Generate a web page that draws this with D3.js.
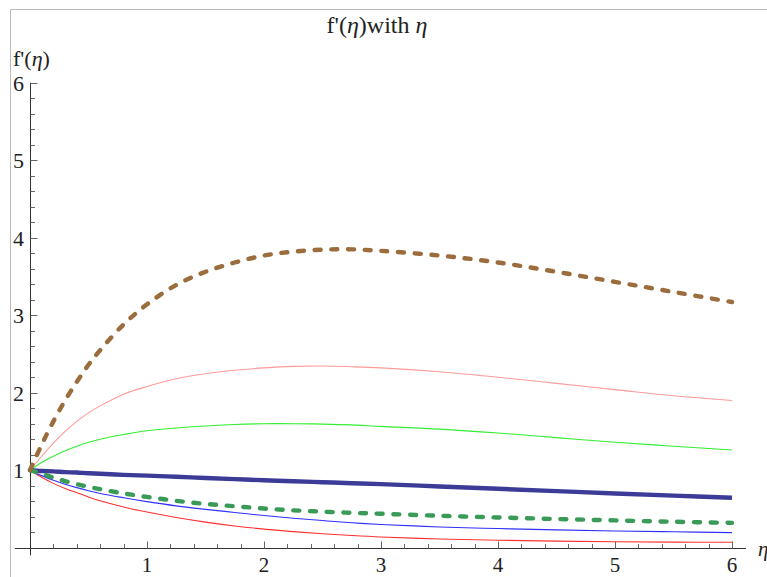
<!DOCTYPE html>
<html>
<head>
<meta charset="utf-8">
<script src="https://cdn.jsdelivr.net/npm/d3@7"></script>
<style>
  html, body { margin: 0; padding: 0; background: #fff; }
  svg { display: block; }
</style>
</head>
<body>
<div id="chart"></div>
<script>
// eta grid shared by every curve
const eta = [0, 0.1, 0.2, 0.3, 0.4, 0.5, 0.6, 0.8, 1, 1.25, 1.5, 1.75, 2, 2.25, 2.5, 2.75, 3, 3.5, 4, 4.5, 5, 5.5, 6];

// f'(eta) values
const brownDashed = [1, 1.33, 1.63, 1.90, 2.14, 2.36, 2.55, 2.88, 3.14, 3.39, 3.56, 3.68, 3.77, 3.82, 3.845, 3.85, 3.83, 3.77, 3.68, 3.56, 3.43, 3.30, 3.17];
const pinkThin    = [1, 1.18, 1.35, 1.50, 1.63, 1.74, 1.83, 1.98, 2.08, 2.18, 2.245, 2.29, 2.32, 2.34, 2.345, 2.335, 2.32, 2.27, 2.20, 2.12, 2.04, 1.96, 1.90];
const greenThin   = [1, 1.10, 1.18, 1.25, 1.31, 1.36, 1.40, 1.46, 1.51, 1.545, 1.57, 1.59, 1.60, 1.60, 1.595, 1.585, 1.565, 1.53, 1.48, 1.42, 1.36, 1.31, 1.26];
const navyThick   = [1, 0.99, 0.985, 0.975, 0.97, 0.96, 0.955, 0.94, 0.93, 0.915, 0.90, 0.885, 0.87, 0.858, 0.845, 0.832, 0.82, 0.79, 0.76, 0.73, 0.70, 0.672, 0.645];
const greenDashed = [1, 0.955, 0.905, 0.86, 0.82, 0.785, 0.755, 0.70, 0.655, 0.605, 0.565, 0.535, 0.505, 0.482, 0.465, 0.45, 0.438, 0.412, 0.39, 0.37, 0.352, 0.335, 0.32];
const blueThin    = [1, 0.93, 0.87, 0.82, 0.775, 0.735, 0.70, 0.645, 0.595, 0.54, 0.495, 0.455, 0.415, 0.38, 0.35, 0.322, 0.30, 0.268, 0.247, 0.23, 0.216, 0.205, 0.195];
const redThin     = [1, 0.91, 0.83, 0.765, 0.71, 0.655, 0.605, 0.525, 0.46, 0.39, 0.33, 0.28, 0.24, 0.208, 0.18, 0.157, 0.138, 0.113, 0.097, 0.085, 0.077, 0.072, 0.07];

const xTicks = [1, 2, 3, 4, 5, 6];
const yTicks = [1, 2, 3, 4, 5, 6];

const FONT = 'Liberation Serif';
const W = 767, H = 577;
const svg = d3.select('#chart').append('svg')
  .attr('width', W).attr('height', H);

// frame (only top and left are visible in the picture)
svg.append('path')
  .attr('d', `M10.5,${H} V9.5 H${W}`)
  .attr('fill', 'none').attr('stroke', '#bbb').attr('stroke-width', 1);

// scales
const x = d3.scaleLinear().domain([0, 6]).range([30, 732]);
const y = d3.scaleLinear().domain([0, 6]).range([547.7, 82.7]);

const y0 = Math.round(y(0)) + 0.5, x0 = Math.round(x(0)) + 0.5;

// axes lines
const ax = svg.append('g').attr('stroke', '#333').attr('stroke-width', 1);
ax.append('line')
  .attr('x1', x(-0.13)).attr('x2', x(6.12))
  .attr('y1', y0).attr('y2', y0);
ax.append('line')
  .attr('x1', x0).attr('x2', x0)
  .attr('y1', y(-0.1)).attr('y2', y(6));

// ticks: majors every 1, minors every 0.2
const minor = d3.range(1, 31).map(i => i / 5);
const isMajor = d => Math.abs(d - Math.round(d)) < 1e-6;
const tickG = svg.append('g').attr('stroke', '#666').attr('stroke-width', 1);
tickG.selectAll('line.xt').data(minor).enter().append('line')
  .attr('x1', d => Math.round(x(d)) + 0.5).attr('x2', d => Math.round(x(d)) + 0.5)
  .attr('y1', y0).attr('y2', d => y0 - (isMajor(d) ? 7 : 4.5));
tickG.selectAll('line.yt').data(minor).enter().append('line')
  .attr('y1', d => Math.round(y(d)) + 0.5).attr('y2', d => Math.round(y(d)) + 0.5)
  .attr('x1', x0).attr('x2', d => x0 + (isMajor(d) ? 7 : 4.5));

// tick labels
svg.selectAll('text.xl').data(xTicks).enter().append('text')
  .attr('x', d => x(d)).attr('y', 572)
  .attr('text-anchor', 'middle').attr('fill', '#222')
  .attr('font-family', FONT).attr('font-size', 21).text(d => d);
svg.selectAll('text.yl').data(yTicks).enter().append('text')
  .attr('x', 24).attr('y', d => y(d) + 8)
  .attr('text-anchor', 'end').attr('fill', '#222')
  .attr('font-family', FONT).attr('font-size', 22).text(d => d);

// axis labels
const yl = svg.append('text').attr('x', 13).attr('y', 66)
  .attr('fill', '#222').attr('font-family', FONT).attr('font-size', 22);
yl.append('tspan').text("f'(");
yl.append('tspan').attr('font-style', 'italic').text('η');
yl.append('tspan').text(')');
svg.append('text').attr('x', 758).attr('y', 556).attr('fill', '#222')
  .attr('font-family', FONT).attr('font-size', 21)
  .attr('font-style', 'italic').text('η');

// title
const tt = svg.append('text').attr('x', 377).attr('y', 33)
  .attr('text-anchor', 'middle').attr('fill', '#222')
  .attr('font-family', FONT).attr('font-size', 24);
tt.append('tspan').text("f'(");
tt.append('tspan').attr('font-style', 'italic').text('η');
tt.append('tspan').text(')with ');
tt.append('tspan').attr('font-style', 'italic').text('η');

// curves
const series = [
  { v: pinkThin,    color: '#ff9a9a', w: 1.1 },
  { v: greenThin,   color: '#33ee33', w: 1.1 },
  { v: redThin,     color: '#ff3030', w: 1.1 },
  { v: blueThin,    color: '#3030ff', w: 1.1 },
  { v: navyThick,   color: '#3c3c98', w: 4.4 },
  { v: greenDashed, color: '#3a9a58', w: 4.4, dash: '6,10.7' },
  { v: brownDashed, color: '#9b6c3c', w: 4.4, dash: '6,10.7' }
];
const line = d3.line()
  .x((d, i) => x(eta[i]))
  .y(d => y(d))
  .curve(d3.curveCatmullRom.alpha(0.5));

svg.append('g').selectAll('path').data(series).enter().append('path')
  .attr('d', s => line(s.v))
  .attr('fill', 'none')
  .attr('stroke', s => s.color)
  .attr('stroke-width', s => s.w)
  .attr('stroke-linecap', s => s.dash ? 'round' : 'butt')
  .attr('stroke-dasharray', s => s.dash || null);
</script>
</body>
</html>
